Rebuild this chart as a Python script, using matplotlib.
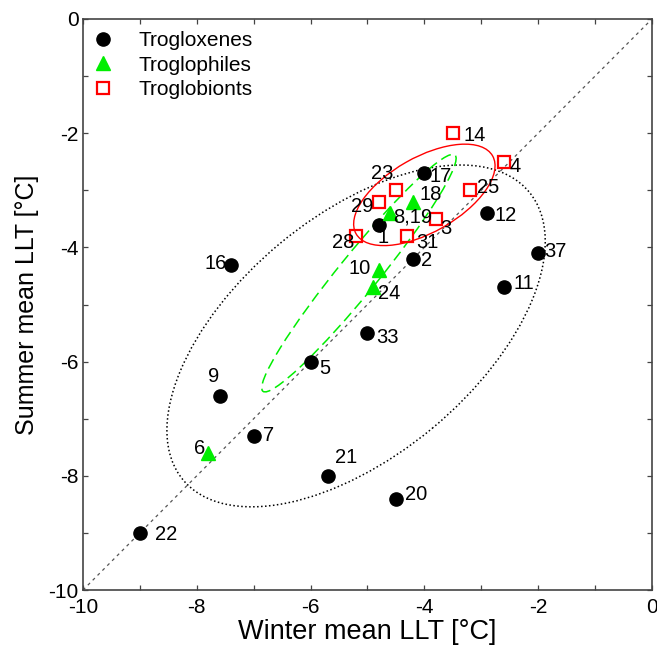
import matplotlib.pyplot as plt
from matplotlib.patches import Ellipse

plt.rcParams['font.family'] = ['Liberation Sans', 'DejaVu Sans']
plt.rcParams['axes.unicode_minus'] = False

# Trogloxenes (black circles)
xeno_labels = ['16', '9', '7', '22', '21', '20', '5', '33', '1', '2', '17', '12', '37', '11']
xeno_winter = [-7.4, -7.6, -7.0, -9.0, -5.7, -4.5, -6.0, -5.0, -4.8, -4.2, -4.0, -2.9, -2.0, -2.6]
xeno_summer = [-4.3, -6.6, -7.3, -9.0, -8.0, -8.4, -6.0, -5.5, -3.6, -4.2, -2.7, -3.4, -4.1, -4.7]

# Troglophiles (green triangles)
phil_labels = ['6', '10', '24', '8,19', '18']
phil_winter = [-7.8, -4.8, -4.9, -4.6, -4.2]
phil_summer = [-7.6, -4.4, -4.7, -3.4, -3.2]

# Troglobionts (red squares)
bion_labels = ['14', '4', '23', '25', '29', '3', '28', '31']
bion_winter = [-3.5, -2.6, -4.5, -3.2, -4.8, -3.8, -5.2, -4.3]
bion_summer = [-2.0, -2.5, -3.0, -3.0, -3.2, -3.5, -3.8, -3.8]

# ellipses: centre x, centre y, width, height, angle
ell_cx = [-5.2, -5.15, -4.0]
ell_cy = [-5.55, -4.45, -3.08]
ell_w = [7.9, 5.34, 2.76]
ell_h = [4.2, 0.69, 1.31]
ell_angle = [39.6, 50.8, 29.6]

# label placement (offset in pixels, horizontal alignment)
label_pos = {
    '16': (-4, 1, 'right'), '9': (-6, 19, 'center'), '7': (9, 0, 'left'),
    '22': (15, -2, 'left'), '21': (7, 18, 'left'), '20': (9, 4, 'left'),
    '5': (9, -7, 'left'), '33': (9, -4, 'left'), '1': (4, -13, 'center'),
    '2': (8, -2, 'left'), '17': (5, -3, 'left'), '12': (8, -2, 'left'),
    '37': (6, 2, 'left'), '11': (9, 4, 'left'),
    '6': (-3, 4, 'right'), '10': (-8, 2, 'right'), '24': (5, -6, 'left'),
    '8,19': (3, -4, 'left'), '18': (7, 7, 'left'),
    '14': (11, -2, 'left'), '4': (5, -5, 'left'), '23': (-3, 17, 'right'),
    '25': (7, 3, 'left'), '29': (-5, -5, 'right'), '3': (4, -10, 'left'),
    '28': (-2, -7, 'right'), '31': (9, -7, 'left'),
}

GREEN = '#00ee00'

fig = plt.figure(figsize=(6.57, 6.55), dpi=100)
ax = fig.add_axes([0.1263, 0.0992, 0.866, 0.8718])

# 1:1 line
ax.plot([-10, 0], [-10, 0], color='#555555', lw=0.9, ls=(0, (2.5, 3)), zorder=1)

ell_styles = [
    dict(edgecolor='black', lw=1.1, ls=(0, (1, 1.6))),
    dict(edgecolor=GREEN, lw=1.1, ls=(0, (7, 3.5))),
    dict(edgecolor='red', lw=1.0, ls='-'),
]
for cx, cy, w, h, a, st in zip(ell_cx, ell_cy, ell_w, ell_h, ell_angle, ell_styles):
    ax.add_patch(Ellipse((cx, cy), w, h, angle=a, facecolor='none', zorder=2, **st))

ax.plot(xeno_winter, xeno_summer, 'o', color='black', ms=9.5, ls='none',
        label='Trogloxenes', zorder=4)
ax.plot(phil_winter, phil_summer, '^', color=GREEN, ms=10.5, ls='none',
        label='Troglophiles', zorder=4)
ax.plot(bion_winter, bion_summer, 's', mfc='none', mec='red', mew=1.6, ms=8.5,
        ls='none', label='Troglobionts', zorder=4)

for labels, xs, ys in [(xeno_labels, xeno_winter, xeno_summer),
                       (phil_labels, phil_winter, phil_summer),
                       (bion_labels, bion_winter, bion_summer)]:
    for lab, x, y in zip(labels, xs, ys):
        dx, dy, ha = label_pos[lab]
        ax.annotate(lab, (x, y), xytext=(dx, dy), textcoords='offset pixels',
                    ha=ha, va='center', fontsize=14.5, zorder=5)

ax.set_xlim(-10, 0)
ax.set_ylim(-10, 0)
ax.set_xticks(range(-10, 1, 2))
ax.set_yticks(range(-10, 1, 2))
ax.set_xticks(range(-9, 0, 2), minor=True)
ax.set_yticks(range(-9, 0, 2), minor=True)
ax.tick_params(which='both', direction='in', top=True, right=True, length=3.5,
               width=0.9, color='#444444', labelsize=15)
ax.tick_params(axis='x', pad=6)
ax.tick_params(axis='y', pad=3)
for sp in ax.spines.values():
    sp.set_color('#444444')
    sp.set_linewidth(1.2)

ax.set_xlabel('Winter mean LLT [°C]', fontsize=19.5, labelpad=1)
ax.set_ylabel('Summer mean LLT [°C]', fontsize=18, labelpad=7)

ax.legend(loc='upper left', frameon=False, fontsize=15, numpoints=1,
          handlelength=1.0, handletextpad=1.2, labelspacing=0.25,
          borderaxespad=0.2, bbox_to_anchor=(-0.005, 1.0))

fig.savefig('out.png', dpi=100)
